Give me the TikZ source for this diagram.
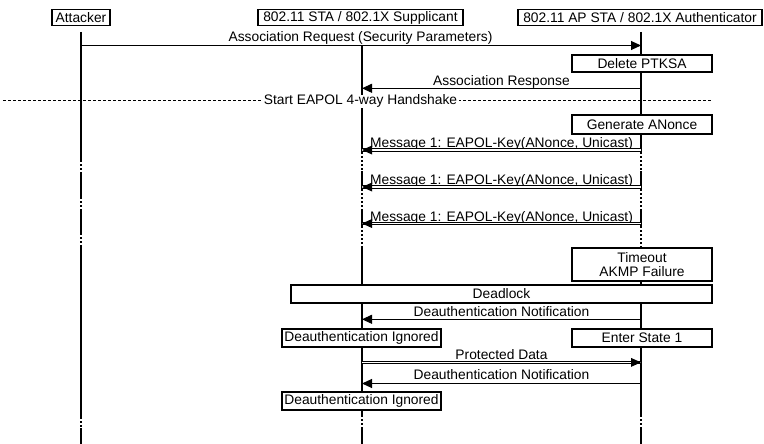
\documentclass[tikz,border=0pt]{standalone}
\usepackage{fontspec}
\setmainfont{Liberation Sans}
\usetikzlibrary{arrows.meta}
\begin{document}
\begin{tikzpicture}[x=1pt,y=-1pt, line width=1.05pt,
  every node/.style={font=\fontsize{13.8}{13.3}\selectfont, inner sep=0pt},
  box/.style={draw, fill=white, line width=1.05pt, inner sep=0pt, align=center},
  lbl/.style={anchor=base},
  msg/.style={-{Triangle[length=10pt,width=9pt]}},
  dbl/.style={double, double distance=1.5pt},
  dotl/.style={dash pattern=on 2pt off 2pt},
  sepline/.style={dash pattern=on 3pt off 2pt}]
\useasboundingbox (0,0) rectangle (764,444);

% headers
\node[box, minimum width=58pt, minimum height=16pt] (att) at (81,17.5) {Attacker};
\node[box, minimum width=205pt, minimum height=16pt] (sta) at (360.5,17.5) {802.11 STA / 802.1X Supplicant};
\node[box, minimum width=244pt, minimum height=16pt] (ap) at (640,17.5) {802.11 AP STA / 802.1X Authenticator};

% lifeline anchors
\coordinate (LA) at (81,32);
\coordinate (LS) at (362,32);
\coordinate (LP) at (641,32);

% lifelines (solid parts)
\foreach \p/\a/\b in {LA/32/160, LA/172/197, LA/210/233, LA/245/417, LA/428/444,
                      LS/32/152, LS/171/189, LS/211/226, LS/247/415, LS/429/444,
                      LP/32/152, LP/171/189, LP/211/226, LP/247/415, LP/429/444}
  \draw (\p |- 0,\a) -- (\p |- 0,\b);
% lifelines (dotted parts)
\foreach \p/\a/\b in {LA/160/172, LA/197/210, LA/233/245, LA/417/428,
                      LS/152/171, LS/189/211, LS/226/247, LS/415/429,
                      LP/152/171, LP/189/211, LP/226/247, LP/415/429}
  \draw[dotl] (\p |- 0,\a) -- (\p |- 0,\b);

% Association Request
\node[lbl, fill=white, inner sep=0.6pt] (l1) at (360.5,41.7) {Association Request (Security Parameters)};
\draw[msg] (LA |- 0,45.5) -- (LP |- 0,45.5);

% Delete PTKSA
\node[box, minimum width=140pt, minimum height=17pt] (del) at (642,63.5) {Delete PTKSA};

% Association Response
\node[lbl] (l2) at (501.5,85) {Association Response};
\draw[msg] (LP |- 0,88.3) -- (LS |- 0,88.3);

% separator
\coordinate (sepL) at (3,100.5);
\coordinate (sepR) at (712,100.5);
\draw[sepline] (sepL) -- (sepR);
\node[lbl, fill=white, inner xsep=2pt, inner ysep=0.5pt] (sepT) at (360.5,105) {Start EAPOL 4-way Handshake};

% Generate ANonce
\node[box, minimum width=140pt, minimum height=19pt] (gen) at (642,124.5) {Generate ANonce};

% Message 1 (three times)
\foreach \y/\b in {150/147, 187/184.5, 223.5/221} {
  \node[lbl] at (501.5,\b) {Message 1: EAPOL-Key(ANonce, Unicast)};
  \draw[dbl] (LP |- 0,\y) -- (LS |- 0,\y);
  \fill (LS |- 0,\y) -- ++(10,-4.5) -- ++(0,9) -- cycle;
}

% Timeout
\node[box, minimum width=140pt, minimum height=33pt] (tmo) at (642,264.5) {Timeout\\AKMP Failure};

% Deadlock
\node[box, minimum width=421pt, minimum height=18pt] (dl) at (501.5,294) {Deadlock};

% Deauthentication Notification 1
\node[lbl] (l3) at (501.5,316) {Deauthentication Notification};
\draw[msg] (LP |- 0,319.3) -- (LS |- 0,319.3);

% Deauthentication Ignored / Enter State 1
\node[box, minimum width=159pt, minimum height=18pt] (ign1) at (361.5,338) {Deauthentication Ignored};
\node[box, minimum width=140pt, minimum height=18pt] (st1) at (642,338) {Enter State 1};

% Protected Data
\node[lbl] (l4) at (501.5,359.5) {Protected Data};
\draw[dbl] (LS |- 0,362.4) -- (LP |- 0,362.4);
\fill (LP |- 0,362.4) -- ++(-10,-4.5) -- ++(0,9) -- cycle;

% Deauthentication Notification 2
\node[lbl] (l5) at (501.5,379.5) {Deauthentication Notification};
\draw[msg] (LP |- 0,383.5) -- (LS |- 0,383.5);

% Deauthentication Ignored 2
\node[box, minimum width=159pt, minimum height=18pt] (ign2) at (361.5,401) {Deauthentication Ignored};
\end{tikzpicture}
\end{document}
